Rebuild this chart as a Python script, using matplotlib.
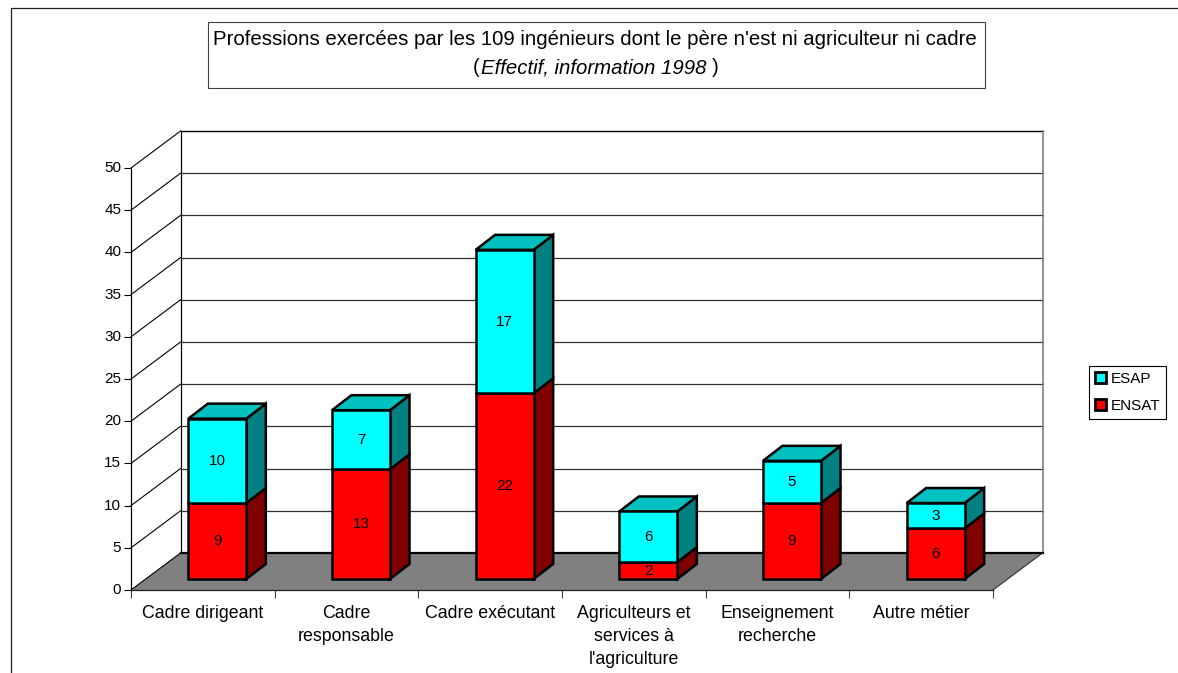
import matplotlib
matplotlib.use('Agg')
import matplotlib.pyplot as plt
from matplotlib.patches import Polygon, Patch, Rectangle
from matplotlib.transforms import ScaledTranslation

plt.rcParams['font.family'] = ['Liberation Sans', 'DejaVu Sans']

categories = ['Cadre dirigeant', 'Cadre\nresponsable', 'Cadre exécutant',
              'Agriculteurs et\nservices à\nl\'agriculture', 'Enseignement\nrecherche', 'Autre métier']
ensat = [9, 13, 22, 2, 9, 6]
esap = [10, 7, 17, 6, 5, 3]
y_ticks = list(range(0, 55, 5))

W, H = 1178, 673

fig = plt.figure(figsize=(W / 100, H / 100), dpi=100)

# plan avant du graphique, en pixels
left, right, bottom, top = 131, 993, 590, 168
ax = fig.add_axes([left / W, 1 - bottom / H, (right - left) / W, (bottom - top) / H])
ax.set_xlim(0, 6)
ax.set_ylim(0, 50)

px_x = 6 / (right - left)
px_y = 50 / (bottom - top)

# profondeur du fond et des barres
wall_dx, wall_dy = 49.5 * px_x, 37 * px_y
bar_dx, bar_dy = 19.5 * px_x, 15 * px_y
bar_w = 58 * px_x
bar_shift = 14.5 * px_x
bar_base = 11 * px_y


def poly(pts, face, edge='black', lw=0.9, z=2):
    ax.add_patch(Polygon(pts, closed=True, facecolor=face, edgecolor=edge, linewidth=lw,
                         zorder=z, clip_on=False, joinstyle='miter'))


# sol
poly([(0, 0), (6, 0), (6 + wall_dx, wall_dy), (wall_dx, wall_dy)], '#808080', edge='none', z=1)

# grille : mur du fond et cote gauche
for v in y_ticks[1:]:
    col = 'black' if v == 50 else '#303030'
    lw = 1.0 if v == 50 else 0.9
    ax.plot([wall_dx, 6 + wall_dx], [v + wall_dy] * 2, color=col, lw=lw, zorder=1, clip_on=False)
    ax.plot([0, wall_dx], [v, v + wall_dy], color='black', lw=0.8, zorder=1, clip_on=False)
ax.plot([0, wall_dx], [0, wall_dy], color='black', lw=0.8, zorder=1, clip_on=False)
ax.plot([wall_dx, 6 + wall_dx], [wall_dy] * 2, color='black', lw=1.6, zorder=1.5, clip_on=False)
ax.plot([wall_dx, wall_dx], [wall_dy, 50 + wall_dy], color='black', lw=0.9, zorder=1, clip_on=False)
ax.plot([6 + wall_dx, 6 + wall_dx], [wall_dy, 50 + wall_dy], color='#808080', lw=1.2, zorder=1.2, clip_on=False)
ax.plot([6, 6 + wall_dx], [0, wall_dy], color='#303030', lw=0.8, zorder=1.5, clip_on=False)

# barres empilees
bar_lw = 1.8
for i, (a, b) in enumerate(zip(ensat, esap)):
    x0 = i + 0.5 + bar_shift - bar_w / 2
    x1 = x0 + bar_w
    for start, val, front, side in [(0, a, '#ff0000', '#800000'), (a, b, '#00ffff', '#008080')]:
        y0 = bar_base + start
        y1 = y0 + val
        poly([(x1, y0), (x1 + bar_dx, y0 + bar_dy), (x1 + bar_dx, y1 + bar_dy), (x1, y1)], side, lw=bar_lw, z=3)
        poly([(x0, y0), (x1, y0), (x1, y1), (x0, y1)], front, lw=bar_lw, z=4)
        ax.text((x0 + x1) / 2, (y0 + y1) / 2, str(val), ha='center', va='center', fontsize=11, zorder=5)
    y1 = bar_base + a + b
    poly([(x0, y1), (x1, y1), (x1 + bar_dx, y1 + bar_dy), (x0 + bar_dx, y1 + bar_dy)], '#00c0c0', lw=bar_lw, z=3)

# axes
for s in ['top', 'right']:
    ax.spines[s].set_visible(False)
ax.spines['left'].set_linewidth(0.9)
ax.spines['bottom'].set_linewidth(0.9)
ax.spines['bottom'].set_color('#202020')
ax.patch.set_visible(False)
ax.set_yticks(y_ticks)
ax.tick_params(axis='y', length=5, width=0.8, labelsize=11, pad=2)
# les nombres de l'axe sont un peu au-dessus des graduations
shift_up = ScaledTranslation(0, 1.5 / 100, fig.dpi_scale_trans)
for lab in ax.get_yticklabels():
    lab.set_transform(lab.get_transform() + shift_up)
ax.set_xticks(range(7))
ax.set_xticklabels([])
ax.tick_params(axis='x', which='major', length=6, width=0.8, color='#404040')
ax.set_xticks([i + 0.5 for i in range(6)], minor=True)
ax.set_xticklabels(categories, minor=True, fontsize=12.8, linespacing=1.48)
ax.tick_params(axis='x', which='minor', length=0, pad=10.5)

# cadre exterieur (ouvert en bas et a droite)
fig.add_artist(plt.Line2D([11 / W, 11 / W, 1], [0, 1 - 8 / H, 1 - 8 / H], color='#202020', lw=0.9))

# titre
fig.add_artist(Rectangle((208 / W, 1 - 88 / H), 777 / W, 66 / H, transform=fig.transFigure,
                         facecolor='white', edgecolor='#404040', lw=0.8))
fig.text(595 / W, 1 - 45 / H, "Professions exercées par les 109 ingénieurs dont le père n'est ni agriculteur ni cadre",
         ha='center', va='baseline', fontsize=14.7)
fig.text(473 / W, 1 - 73 / H, '(', ha='left', va='baseline', fontsize=14.7)
fig.text(481 / W, 1 - 73 / H, 'Effectif, information 1998', ha='left', va='baseline', fontsize=14.7, style='italic')
fig.text(712 / W, 1 - 73 / H, ')', ha='left', va='baseline', fontsize=14.7)

# legende
handles = [Patch(facecolor='#00ffff', edgecolor='black', lw=2, label='ESAP'),
           Patch(facecolor='#ff0000', edgecolor='black', lw=2, label='ENSAT')]
leg = fig.legend(handles=handles, loc='upper left', bbox_to_anchor=(1089 / W, 1 - 366 / H),
                 fontsize=11, frameon=True, fancybox=False, edgecolor='black', framealpha=1,
                 handlelength=0.7, handleheight=0.7, handletextpad=0.3, labelspacing=0.85,
                 borderpad=0.4, borderaxespad=0)
leg.get_frame().set_linewidth(0.8)

fig.savefig('out.png', dpi=100)
